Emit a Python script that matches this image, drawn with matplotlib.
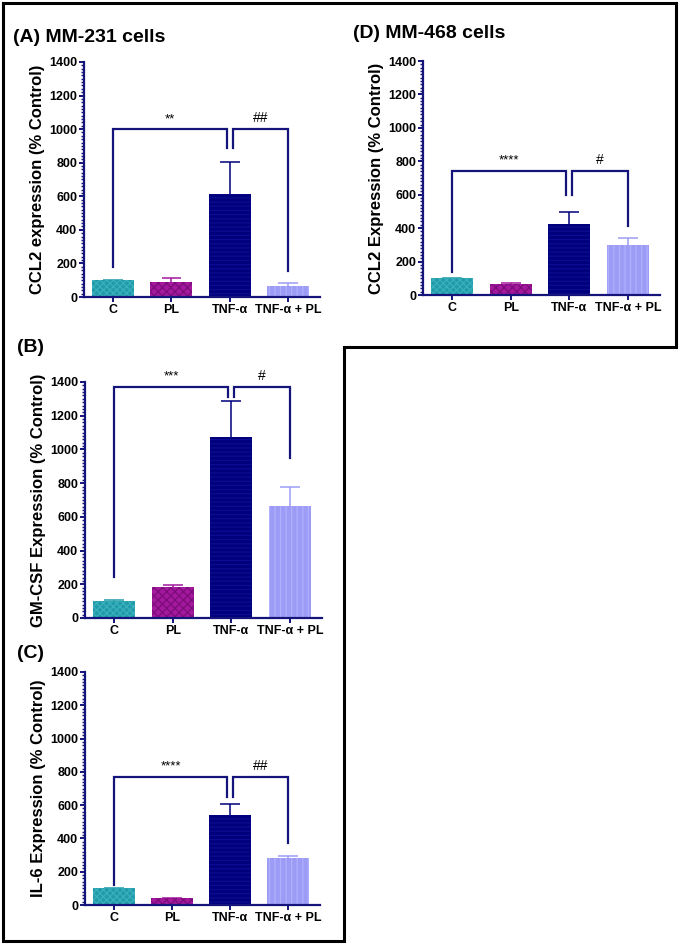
import matplotlib
matplotlib.use("Agg")
import matplotlib.pyplot as plt
from matplotlib.lines import Line2D
from matplotlib.ticker import MultipleLocator
import numpy as np

plt.rcParams["font.family"] = ["Liberation Sans", "DejaVu Sans"]
plt.rcParams["hatch.linewidth"] = 0.9

groups = ["C", "PL", "TNF-α", "TNF-α + PL"]

ccl2_231 = [100, 91, 615, 67]
ccl2_231_err = [3, 20, 187, 18]
gmcsf_231 = [100, 182, 1075, 662]
gmcsf_231_err = [4, 11, 210, 115]
il6_231 = [100, 40, 541, 284]
il6_231_err = [4, 3, 65, 12]
ccl2_468 = [100, 63, 422, 302]
ccl2_468_err = [3, 8, 75, 40]

# significance brackets: (height, leg bottoms C / TNF / TNF+PL, labels)
sig_231_ccl2 = (1000, [178, 885, 155], "**", "##")
sig_231_gmcsf = (1372, [245, 1310, 950], "***", "#")
sig_231_il6 = (771, [120, 650, 372], "****", "##")
sig_468_ccl2 = (742, [138, 598, 413], "****", "#")

bar_colors = ["#1f9ba9", "#a3189c", "#00007c", "#9c9cf6"]
hatch_colors = ["#3bb0bc", "#7d0c7b", "#0c0c92", "#b0b0fc"]
hatches = ["xxxxx", "xxxx", "----", "|||"]
navy = "#14147a"

W, H = 680, 944
fig = plt.figure(figsize=(W / 100, H / 100), dpi=100)


def panel(left, right, top, bottom):
    return fig.add_axes([left / W, 1 - bottom / H, (right - left) / W, (bottom - top) / H])


def draw(ax, means, errs, ylabel, sig):
    x = np.arange(len(groups))
    means = np.asarray(means)
    tops = means + np.asarray(errs)
    # upper error bars only
    ax.vlines(x, means, tops, colors=bar_colors, lw=1.1, zorder=1)
    ax.hlines(tops, x - 0.17, x + 0.17, colors=bar_colors, lw=1.1, zorder=1)
    ax.bar(x, means, width=0.72, color=bar_colors, linewidth=0, zorder=2)
    ax.bar(x, means, width=0.72, color="none", edgecolor=hatch_colors,
           hatch=hatches, linewidth=0, zorder=2)
    ax.set_xlim(-0.5, 3.55)
    ax.set_ylim(0, 1400)
    ax.yaxis.set_major_locator(MultipleLocator(200))
    ax.yaxis.set_minor_locator(MultipleLocator(20))
    ax.set_xticks(x)
    ax.set_xticklabels(groups, fontweight="bold", fontsize=9)
    for t in ax.get_yticklabels():
        t.set_fontweight("bold")
        t.set_fontsize(9)
    for s in ["top", "right"]:
        ax.spines[s].set_visible(False)
    for s in ["left", "bottom"]:
        ax.spines[s].set_color(navy)
        ax.spines[s].set_linewidth(1.6)
    ax.tick_params(which="major", color=navy, width=1.4, length=3.5, pad=1.5)
    ax.tick_params(axis="y", which="minor", color=navy, width=1, length=2)
    ax.set_ylabel(ylabel, fontweight="bold", fontsize=12, labelpad=3)

    h, legs, lab1, lab2 = sig
    xl = [0, 2 - 0.05]
    xr = [2 + 0.05, 3]
    ax.plot([xl[0], xl[0], xl[1], xl[1]], [legs[0], h, h, legs[1]],
            color=navy, lw=1.6, clip_on=False, solid_joinstyle="miter")
    ax.plot([xr[0], xr[0], xr[1], xr[1]], [legs[1], h, h, legs[2]],
            color=navy, lw=1.6, clip_on=False, solid_joinstyle="miter")
    ax.annotate(lab1, xy=(np.mean(xl), h), xytext=(0, 3), textcoords="offset points",
                ha="center", va="bottom", fontsize=9.5, annotation_clip=False)
    ax.annotate(lab2, xy=(np.mean(xr), h), xytext=(0, 3), textcoords="offset points",
                ha="center", va="bottom", fontsize=10, annotation_clip=False)


axA = panel(84, 320, 62, 297)
draw(axA, ccl2_231, ccl2_231_err, "CCL2 expression (% Control)", sig_231_ccl2)
axB = panel(85, 322, 382, 618)
draw(axB, gmcsf_231, gmcsf_231_err, "GM-CSF Expression (% Control)", sig_231_gmcsf)
axC = panel(85, 320, 672, 905)
draw(axC, il6_231, il6_231_err, "IL-6 Expression (% Control)", sig_231_il6)
axD = panel(423, 660, 61, 295)
draw(axD, ccl2_468, ccl2_468_err, "CCL2 Expression (% Control)", sig_468_ccl2)

titles = [("(A) MM-231 cells", 13, 42), ("(B)", 17, 352), ("(C)", 17, 658),
          ("(D) MM-468 cells", 353, 38)]
for txt, tx, ty in titles:
    fig.text(tx / W, 1 - ty / H, txt, fontsize=14, fontweight="bold",
             ha="left", va="baseline")

# L-shaped outer frame
fx = np.array([3, 676, 676, 344, 344, 3, 3])
fy = np.array([3, 3, 347, 347, 941, 941, 3])
fig.add_artist(Line2D(fx / W, 1 - fy / H, color="black", lw=2.2,
                      solid_joinstyle="miter", transform=fig.transFigure))

fig.savefig("out.png", dpi=100)
